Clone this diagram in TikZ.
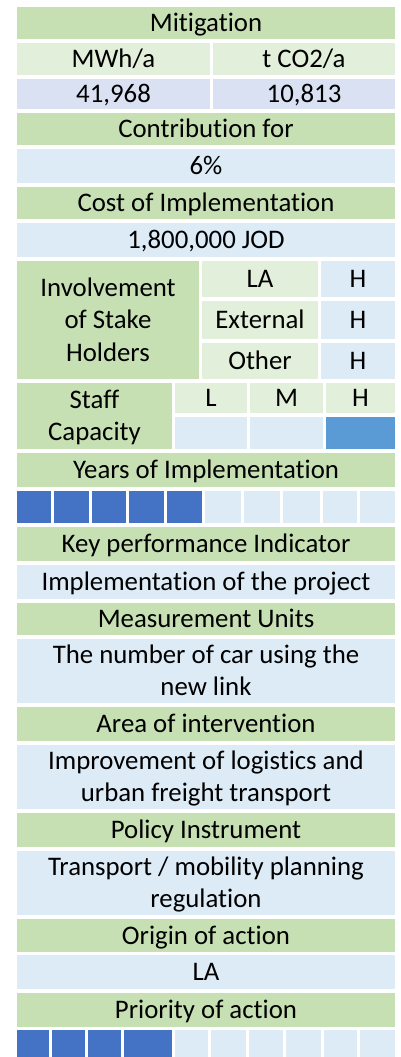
\documentclass[tikz,border=0pt]{standalone}
\usepackage{fontspec}
\setmainfont{Carlito}[Ligatures={NoCommon}]
\definecolor{hdgreen}{HTML}{C6E0B4}
\definecolor{subgreen}{HTML}{E2EFDA}
\definecolor{lblue}{HTML}{DDEBF7}
\definecolor{vblue}{HTML}{D9E1F2}
\definecolor{dblue}{HTML}{4472C4}
\definecolor{mblue}{HTML}{5B9BD5}
\tikzset{
  cell/.style={draw=none,inner sep=0pt,outer sep=0pt,anchor=north west},
  txt/.style={inner sep=0pt,outer sep=0pt,anchor=base,text=black,font=\fontsize{26.8}{32}\selectfont}
}
\newcommand\cellbox[6]{%
  \pgfmathsetmacro\cw{#4-#2}\pgfmathsetmacro\ch{#5-#3}%
  \node[cell,fill=#6,minimum width=\cw pt,minimum height=\ch pt] (#1) at (#2pt,-#3pt) {};}
\newcommand\one[3]{\node[txt] (#1) at ([yshift=-8.5pt]#2.center) {#3};}
\newcommand\two[4]{%
  \node[txt] (#1a) at ([yshift=7.75pt]#2.center) {#3};
  \node[txt] (#1b) at ([yshift=-24.75pt]#2.center) {#4};}
\begin{document}
\begin{tikzpicture}[x=1pt,y=1pt]
\useasboundingbox[fill=white] (0,0) rectangle (400,-1057);
% Mitigation
\cellbox{mit}{17}{7}{395}{39}{hdgreen} \one{mitT}{mit}{Mitigation}
\cellbox{mwh}{17}{43}{210}{75}{subgreen} \one{mwhT}{mwh}{MWh/a}
\cellbox{tco}{213}{43}{395}{75}{subgreen} \one{tcoT}{tco}{t CO2/a}
\cellbox{mwhv}{17}{79}{210}{109}{vblue} \one{mwhvT}{mwhv}{41,968}
\cellbox{tcov}{213}{79}{395}{109}{vblue} \one{tcovT}{tcov}{10,813}
\cellbox{con}{17}{113}{395}{145}{hdgreen} \one{conT}{con}{Contribution for}
\cellbox{conv}{17}{149}{395}{183}{lblue} \one{convT}{conv}{6\%}
\cellbox{cost}{17}{187}{395}{219}{hdgreen} \one{costT}{cost}{Cost of Implementation}
\cellbox{costv}{17}{223}{395}{257}{lblue} \one{costvT}{costv}{1,800,000 JOD}
% Involvement
\cellbox{inv}{17}{261}{199}{379}{hdgreen}
\node[txt] (invA) at ([yshift=24pt]inv.center) {Involvement};
\node[txt] (invB) at ([yshift=-8.5pt]inv.center) {of Stake};
\node[txt] (invC) at ([yshift=-41pt]inv.center) {Holders};
\cellbox{la}{202}{261}{318}{297}{subgreen} \one{laT}{la}{LA}
\cellbox{lah}{321}{261}{395}{297}{lblue} \one{lahT}{lah}{H}
\cellbox{ext}{202}{301}{318}{339}{subgreen} \one{extT}{ext}{External}
\cellbox{exth}{321}{301}{395}{339}{lblue} \one{exthT}{exth}{H}
\cellbox{oth}{202}{343}{318}{379}{subgreen} \one{othT}{oth}{Other}
\cellbox{othh}{321}{343}{395}{379}{lblue} \one{othhT}{othh}{H}
% Staff capacity
\cellbox{staff}{17}{383}{172}{449}{hdgreen} \two{staffT}{staff}{Staff}{Capacity}
\cellbox{sl}{175}{383}{247}{413}{subgreen} \one{slT}{sl}{L}
\cellbox{sm}{250}{383}{323}{413}{subgreen} \one{smT}{sm}{M}
\cellbox{sh}{326}{383}{395}{413}{subgreen} \one{shT}{sh}{H}
\cellbox{slv}{175}{417}{247}{449}{lblue}
\cellbox{smv}{250}{417}{323}{449}{lblue}
\cellbox{shv}{326}{417}{395}{449}{mblue}
% Years
\cellbox{yrs}{17}{453}{395}{487}{hdgreen} \one{yrsT}{yrs}{Years of Implementation}
\cellbox{y1}{17}{491}{51}{523}{dblue}
\cellbox{y2}{54}{491}{89}{523}{dblue}
\cellbox{y3}{92}{491}{126}{523}{dblue}
\cellbox{y4}{129}{491}{164}{523}{dblue}
\cellbox{y5}{167}{491}{202}{523}{dblue}
\cellbox{y6}{205}{491}{241}{523}{lblue}
\cellbox{y7}{244}{491}{280}{523}{lblue}
\cellbox{y8}{283}{491}{320}{523}{lblue}
\cellbox{y9}{323}{491}{357}{523}{lblue}
\cellbox{y10}{360}{491}{395}{523}{lblue}
% KPI etc
\cellbox{kpi}{17}{527}{395}{561}{hdgreen} \one{kpiT}{kpi}{Key performance Indicator}
\cellbox{kpiv}{17}{565}{395}{599}{lblue} \one{kpivT}{kpiv}{Implementation of the project}
\cellbox{mu}{17}{603}{395}{635}{hdgreen} \one{muT}{mu}{Measurement Units}
\cellbox{muv}{17}{639}{395}{703}{lblue} \two{muvT}{muv}{The number of car using the}{new link}
\cellbox{area}{17}{707}{395}{741}{hdgreen} \one{areaT}{area}{Area of intervention}
\cellbox{areav}{17}{745}{395}{809}{lblue} \two{areavT}{areav}{Improvement of logistics and}{urban freight transport}
\cellbox{pol}{17}{813}{395}{847}{hdgreen} \one{polT}{pol}{Policy Instrument}
\cellbox{polv}{17}{851}{395}{915}{lblue} \two{polvT}{polv}{Transport / mobility planning}{regulation}
\cellbox{ori}{17}{919}{395}{952}{hdgreen} \one{oriT}{ori}{Origin of action}
\cellbox{oriv}{17}{955}{395}{989}{lblue} \one{orivT}{oriv}{LA}
\cellbox{pri}{17}{993}{395}{1027}{hdgreen} \one{priT}{pri}{Priority of action}
\cellbox{p1}{17}{1030}{49}{1057}{dblue}
\cellbox{p2}{52}{1030}{85}{1057}{dblue}
\cellbox{p3}{88}{1030}{121}{1057}{dblue}
\cellbox{p4}{124}{1030}{172}{1057}{dblue}
\cellbox{p5}{175}{1030}{208}{1057}{lblue}
\cellbox{p6}{211}{1030}{246}{1057}{lblue}
\cellbox{p7}{249}{1030}{283}{1057}{lblue}
\cellbox{p8}{286}{1030}{321}{1057}{lblue}
\cellbox{p9}{324}{1030}{357}{1057}{lblue}
\cellbox{p10}{360}{1030}{395}{1057}{lblue}
\end{tikzpicture}
\end{document}
